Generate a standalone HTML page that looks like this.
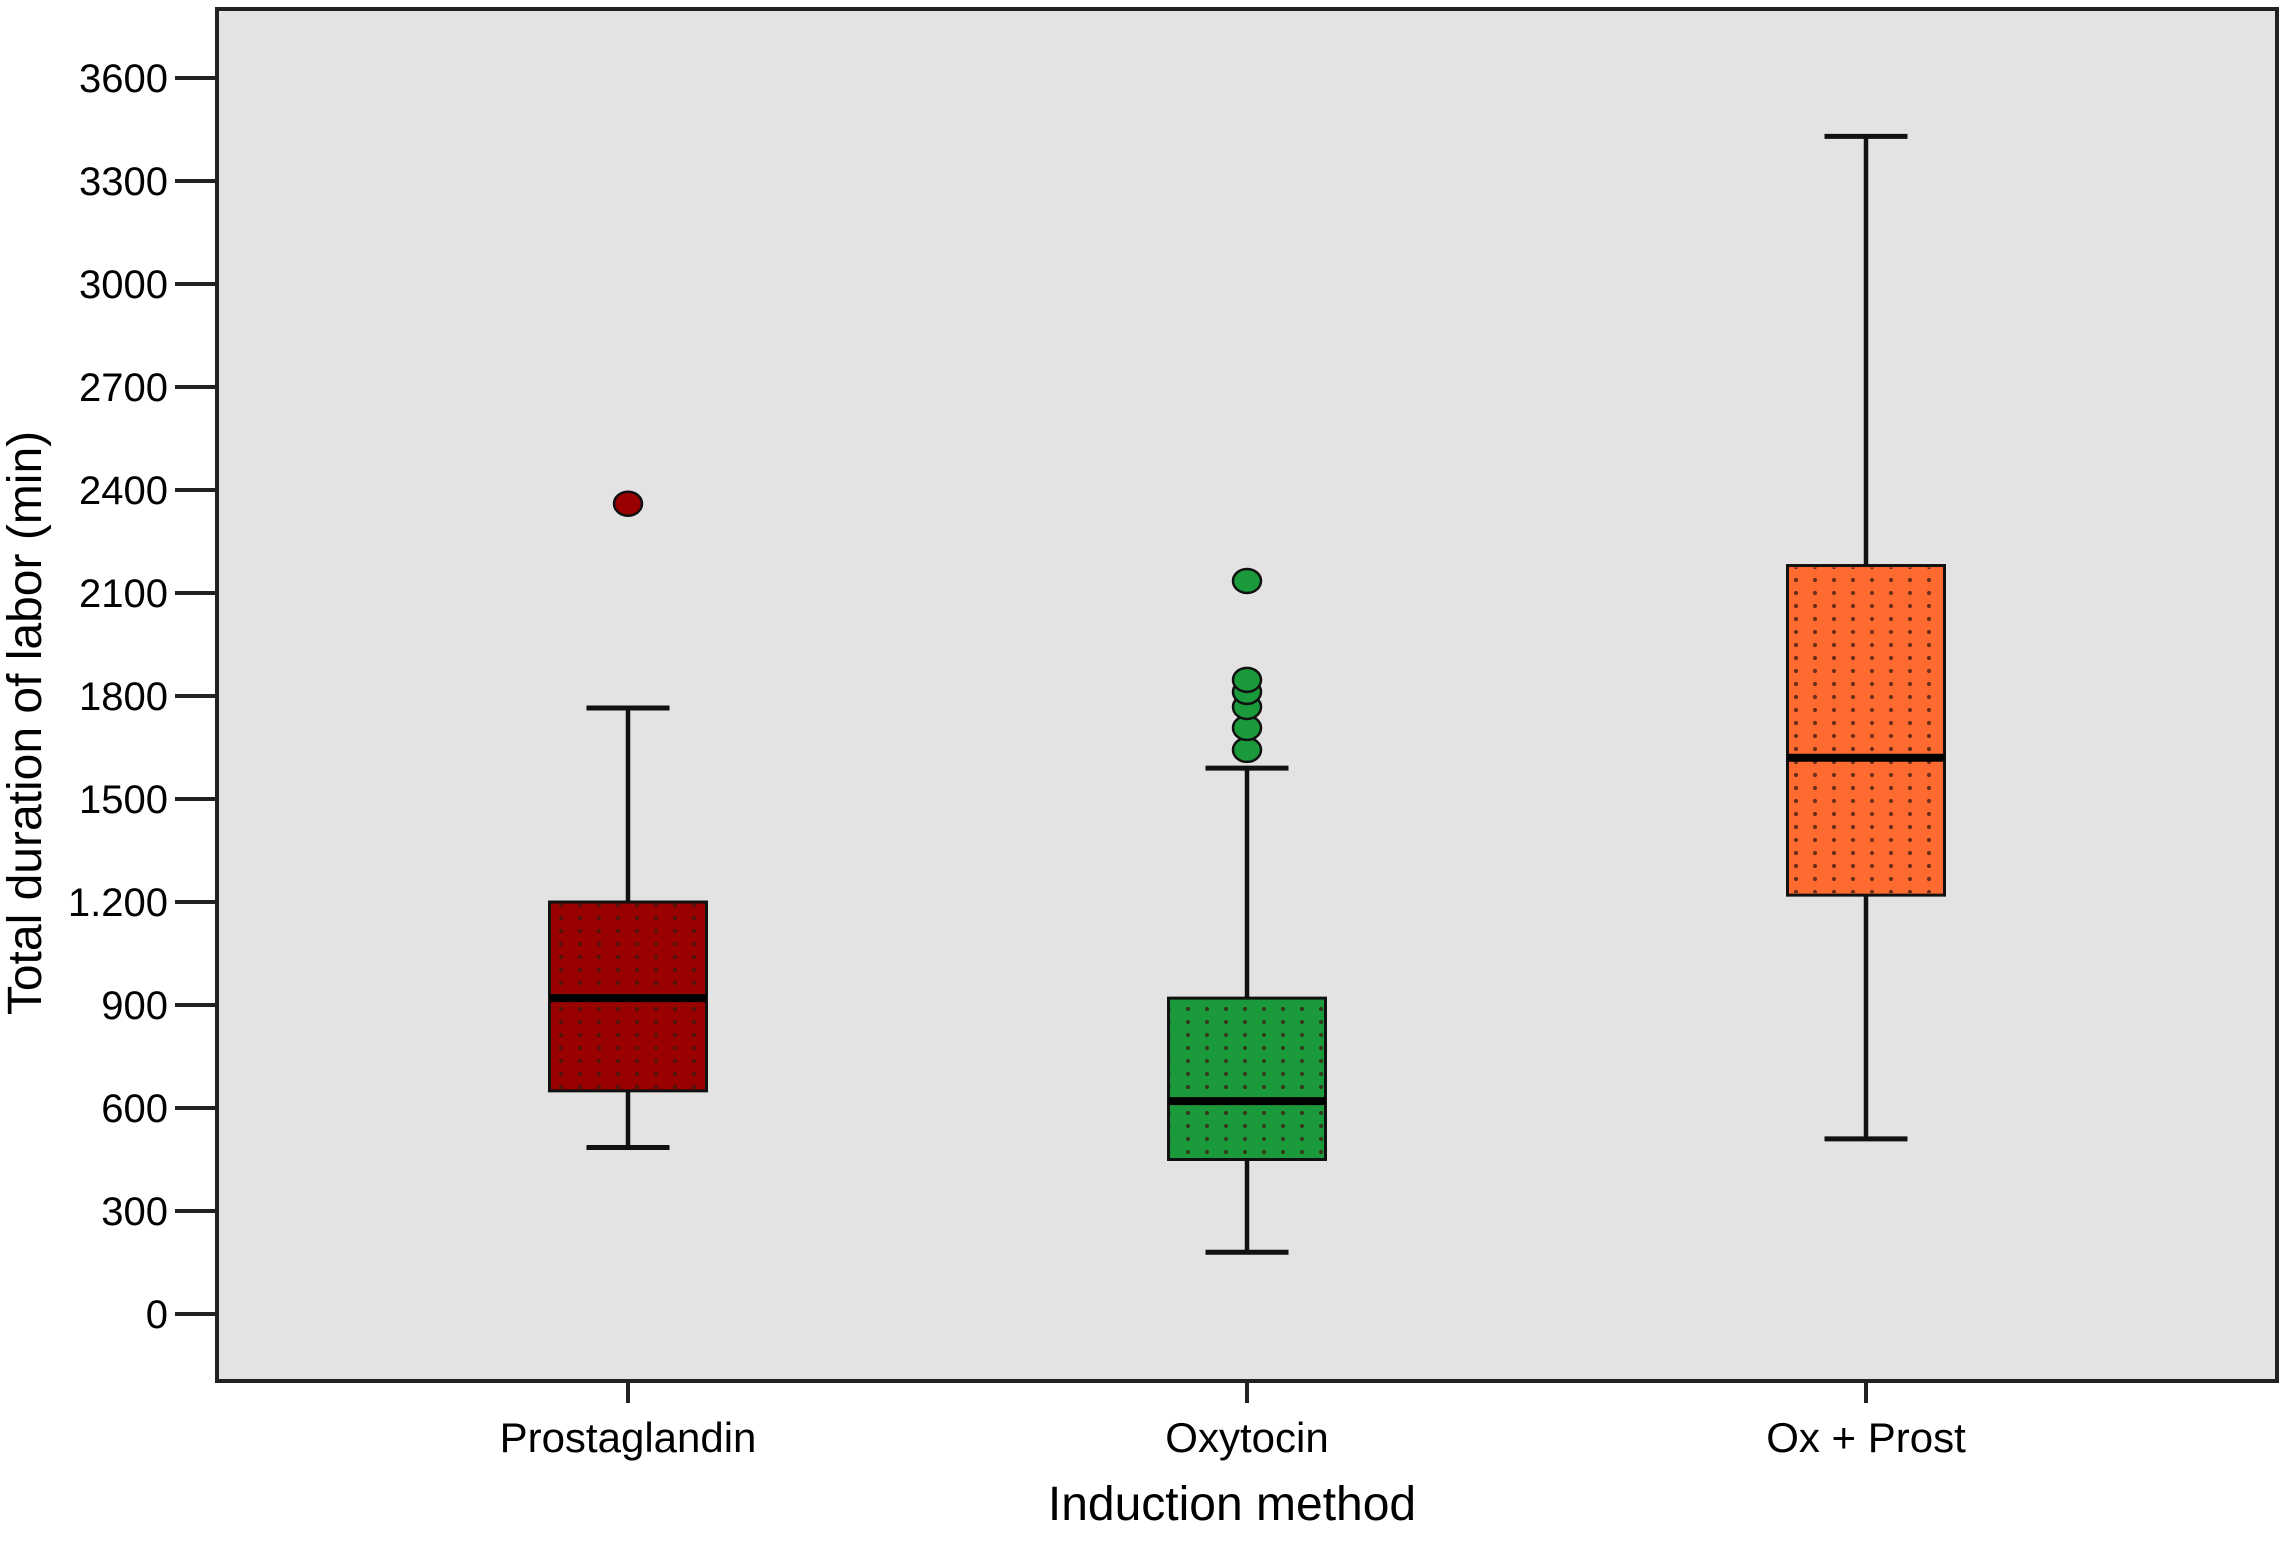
<!DOCTYPE html>
<html><head><meta charset="utf-8"><style>
html,body{margin:0;padding:0;background:#fff;}
svg{display:block;font-family:"Liberation Sans",Arial,sans-serif;}
</style></head><body>
<svg id="chart" width="2289" height="1545" viewBox="0 0 2289 1545">
<defs>
<pattern id="dots" width="19" height="13" patternUnits="userSpaceOnUse" x="6" y="4">
<circle cx="4" cy="4" r="2.1" fill="#3a1a10" opacity="0.75"/>
</pattern>
</defs>
<rect x="217" y="9" width="2060" height="1372" fill="#e3e3e3" stroke="#222" stroke-width="4"/>
<g id="g"></g>
<text x="41" y="723" font-size="48" text-anchor="middle" transform="rotate(-90 41 723)" fill="#000">Total duration of labor (min)</text>
<text x="1232" y="1520" font-size="48" text-anchor="middle" fill="#000">Induction method</text>
</svg>
<script>
const categories = ["Prostaglandin","Oxytocin","Ox + Prost"];
const whiskerLow = [485,180,510];
const q1 = [650,450,1220];
const median = [920,620,1620];
const q3 = [1200,920,2180];
const whiskerHigh = [1765,1590,3430];
const outliers = [[2360],[1643,1707,1768,1812,1847,2135],[]];
const colors = ["#990000","#1a9a3a","#ff6a30"];
const tickValues = [0,300,600,900,1200,1500,1800,2100,2400,2700,3000,3300,3600];
const tickLabels = ["0","300","600","900","1.200","1500","1800","2100","2400","2700","3000","3300","3600"];

const NS="http://www.w3.org/2000/svg";
const g=document.getElementById('g');
function y(v){return 1314-v*(1236/3600);}
function x(i){return 628+i*619;}
function mk(t,a,p){const e=document.createElementNS(NS,t);for(const k in a)e.setAttribute(k,a[k]);(p||g).appendChild(e);return e;}

tickValues.forEach((v,i)=>{
  const l=mk('line',{x1:175,x2:217,y1:y(v),y2:y(v),stroke:'#222','stroke-width':4});
  
  
  const t=mk('text',{x:168,y:y(v)+14,'font-size':40,'text-anchor':'end',fill:'#000'});
  t.textContent=tickLabels[i];
  
  
});
categories.forEach((c,i)=>{
  const cx=x(i), bw=157, cw=83;
  const tk=mk('line',{x1:cx,x2:cx,y1:1381,y2:1403,stroke:'#222','stroke-width':4});
  
  
  const t=mk('text',{x:cx,y:1452,'font-size':42,'text-anchor':'middle',fill:'#000'});
  t.textContent=c;
  
  
  const w=mk('line',{x1:cx,x2:cx,y1:y(whiskerLow[i]),y2:y(whiskerHigh[i]),stroke:'#111','stroke-width':4.5});
  
  
  [whiskerLow[i],whiskerHigh[i]].forEach(v=>{
    const cap=mk('line',{x1:cx-cw/2,x2:cx+cw/2,y1:y(v),y2:y(v),stroke:'#111','stroke-width':5});
    
    
  });
  const b=mk('rect',{x:cx-bw/2,y:y(q3[i]),width:bw,height:y(q1[i])-y(q3[i]),fill:colors[i],stroke:'#111','stroke-width':3});
  
  
  mk('rect',{x:cx-bw/2+2,y:y(q3[i])+2,width:bw-4,height:y(q1[i])-y(q3[i])-4,fill:'url(#dots)'});
  const m=mk('line',{x1:cx-bw/2,x2:cx+bw/2,y1:y(median[i]),y2:y(median[i]),stroke:'#000','stroke-width':8});
  
  
  outliers[i].forEach(v=>{
    const o=mk('ellipse',{cx:cx,cy:y(v),rx:14,ry:12,fill:colors[i],stroke:'#111','stroke-width':2.5});
    
    
  });
});
</script>
</body></html>
